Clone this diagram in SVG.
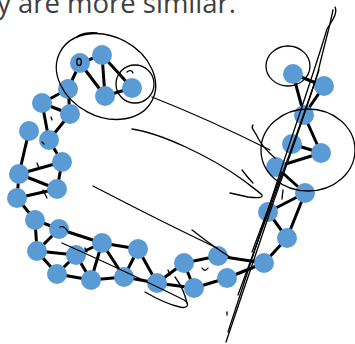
<svg xmlns="http://www.w3.org/2000/svg" width="355" height="344" viewBox="0 0 355 344">
<style>
.e{stroke:#000;stroke-width:3;stroke-linecap:round}
.n{fill:#5b9bd5}
.s{fill:none;stroke:#000;stroke-width:1.3;stroke-linecap:round;stroke-linejoin:round}
.t{font-family:"Open Sans","Noto Sans",sans-serif;font-size:27.5px;fill:#404040}
</style>
<rect width="355" height="344" fill="#fff"/>
<text class="t" x="-3" y="13">y are more similar.</text>
<g id="connectors">
<line class="e" x1="80" y1="63" x2="102" y2="55"/>
<line class="e" x1="80" y1="63" x2="105" y2="96"/>
<line class="e" x1="102" y1="55" x2="105" y2="96"/>
<line class="e" x1="102" y1="55" x2="132" y2="88"/>
<line class="e" x1="105" y1="96" x2="132" y2="88"/>
<line class="e" x1="80" y1="63" x2="68" y2="89"/>
<line class="e" x1="68" y1="89" x2="42" y2="103"/>
<line class="e" x1="68" y1="89" x2="70" y2="114"/>
<line class="e" x1="42" y1="103" x2="70" y2="114"/>
<line class="e" x1="42" y1="103" x2="49" y2="140"/>
<line class="e" x1="70" y1="114" x2="49" y2="140"/>
<line class="e" x1="29" y1="131" x2="19" y2="174"/>
<line class="e" x1="49" y1="140" x2="62" y2="162"/>
<line class="e" x1="62" y1="162" x2="19" y2="174"/>
<line class="e" x1="19" y1="174" x2="57" y2="189"/>
<line class="e" x1="62" y1="162" x2="57" y2="189"/>
<line class="e" x1="57" y1="189" x2="17" y2="198"/>
<line class="e" x1="19" y1="174" x2="17" y2="198"/>
<line class="e" x1="17" y1="198" x2="35" y2="220"/>
<line class="e" x1="35" y1="220" x2="59" y2="229"/>
<line class="e" x1="35" y1="220" x2="37" y2="251"/>
<line class="e" x1="59" y1="229" x2="37" y2="251"/>
<line class="e" x1="37" y1="251" x2="76" y2="255"/>
<line class="e" x1="59" y1="229" x2="102" y2="243"/>
<line class="e" x1="76" y1="255" x2="102" y2="243"/>
<line class="e" x1="37" y1="251" x2="57" y2="274"/>
<line class="e" x1="76" y1="255" x2="57" y2="274"/>
<line class="e" x1="57" y1="274" x2="91" y2="280"/>
<line class="e" x1="102" y1="243" x2="91" y2="280"/>
<line class="e" x1="76" y1="255" x2="91" y2="280"/>
<line class="e" x1="91" y1="280" x2="124" y2="277"/>
<line class="e" x1="102" y1="243" x2="124" y2="277"/>
<line class="e" x1="102" y1="243" x2="138" y2="249"/>
<line class="e" x1="138" y1="249" x2="124" y2="277"/>
<line class="e" x1="138" y1="249" x2="157" y2="283"/>
<line class="e" x1="124" y1="277" x2="157" y2="283"/>
<line class="e" x1="157" y1="283" x2="184" y2="263"/>
<line class="e" x1="157" y1="283" x2="194" y2="288"/>
<line class="e" x1="184" y1="263" x2="194" y2="288"/>
<line class="e" x1="184" y1="263" x2="218" y2="256"/>
<line class="e" x1="194" y1="288" x2="227" y2="278"/>
<line class="e" x1="218" y1="256" x2="264" y2="263"/>
<line class="e" x1="227" y1="278" x2="264" y2="263"/>
<line class="e" x1="264" y1="263" x2="287" y2="238"/>
<line class="e" x1="287" y1="238" x2="305" y2="193"/>
<line class="e" x1="268" y1="212" x2="287" y2="238"/>
<line class="e" x1="268" y1="212" x2="305" y2="193"/>
<line class="e" x1="276" y1="167" x2="305" y2="193"/>
<line class="e" x1="276" y1="167" x2="321" y2="153"/>
<line class="e" x1="292" y1="144" x2="321" y2="153"/>
<line class="e" x1="304" y1="115" x2="321" y2="153"/>
<line class="e" x1="293" y1="74" x2="324" y2="86"/>
<line class="e" x1="293" y1="74" x2="304" y2="115"/>
<line class="e" x1="324" y1="86" x2="304" y2="115"/>
</g>
<g id="nodes">
<circle id="n1" class="n" cx="80" cy="63" r="10"/>
<circle id="n2" class="n" cx="102" cy="55" r="10"/>
<circle id="n3" class="n" cx="105" cy="96" r="10"/>
<circle id="n4" class="n" cx="132" cy="88" r="10"/>
<circle id="n5" class="n" cx="68" cy="89" r="10"/>
<circle id="n6" class="n" cx="42" cy="103" r="10"/>
<circle id="n7" class="n" cx="70" cy="114" r="10"/>
<circle id="n8" class="n" cx="29" cy="131" r="10"/>
<circle id="n9" class="n" cx="49" cy="140" r="10"/>
<circle id="n10" class="n" cx="62" cy="162" r="10"/>
<circle id="n11" class="n" cx="19" cy="174" r="10"/>
<circle id="n12" class="n" cx="57" cy="189" r="10"/>
<circle id="n13" class="n" cx="17" cy="198" r="10"/>
<circle id="n14" class="n" cx="35" cy="220" r="10"/>
<circle id="n15" class="n" cx="59" cy="229" r="10"/>
<circle id="n16" class="n" cx="37" cy="251" r="10"/>
<circle id="n17" class="n" cx="76" cy="255" r="10"/>
<circle id="n18" class="n" cx="102" cy="243" r="10"/>
<circle id="n19" class="n" cx="138" cy="249" r="10"/>
<circle id="n20" class="n" cx="57" cy="274" r="10"/>
<circle id="n21" class="n" cx="91" cy="280" r="10"/>
<circle id="n22" class="n" cx="124" cy="277" r="10"/>
<circle id="n23" class="n" cx="157" cy="283" r="10"/>
<circle id="n24" class="n" cx="184" cy="263" r="10"/>
<circle id="n25" class="n" cx="218" cy="256" r="10"/>
<circle id="n26" class="n" cx="194" cy="288" r="10"/>
<circle id="n27" class="n" cx="227" cy="278" r="10"/>
<circle id="n28" class="n" cx="264" cy="263" r="10"/>
<circle id="n29" class="n" cx="287" cy="238" r="10"/>
<circle id="n30" class="n" cx="268" cy="212" r="10"/>
<circle id="n31" class="n" cx="305" cy="193" r="10"/>
<circle id="n32" class="n" cx="276" cy="167" r="10"/>
<circle id="n33" class="n" cx="292" cy="144" r="10"/>
<circle id="n34" class="n" cx="321" cy="153" r="10"/>
<circle id="n35" class="n" cx="304" cy="115" r="10"/>
<circle id="n36" class="n" cx="293" cy="74" r="10"/>
<circle id="n37" class="n" cx="324" cy="86" r="10"/>
</g>
<g id="sketch">
<ellipse class="s" cx="106" cy="76.5" rx="52" ry="40" transform="rotate(28 106 76.5)"/>
<path class="s" d="M77,37 C80,34 88,32 97,33"/>
<circle class="s" cx="135" cy="84" r="19"/>
<path class="s" d="M127,72 C129,70 132,70 133,73"/>
<path class="s" d="M152,97 C190,112 230,130 270,150"/>
<path class="s" d="M253,125 C250,128 255,131 258,138 C262,146 268,152 275,158"/>
<path class="s" d="M132,129 C160,133 210,156 243,180 C252,187 258,191 262,195 C263,198 258,198 248,197 L230,193"/>
<path class="s" d="M242,170 C245,174 249,179 253,183"/>
<path class="s" d="M93,186 C120,200 160,221 217,248"/>
<path class="s" d="M192,230 C200,236 212,246 230,257"/>
<path class="s" d="M62,243 C100,260 150,283 184,300 C190,304 188,309 180,307 C170,305 157,299 145,292"/>
<path class="s" d="M175,277 C181,285 185,294 187,303"/>
<path class="s" d="M335,7 C338,13 332,21 327,29 C318,60 300,112 281,170 L228,332"/>
<path class="s" d="M333,10 C329,30 323,50 318,72 C306,112 290,155 270,212 L226,342"/>
<path class="s" d="M319,70 C302,120 275,195 238,295"/>
<path class="s" d="M282,172 L252,252"/>
<ellipse class="s" cx="288" cy="66" rx="22" ry="20"/>
<ellipse class="s" cx="308" cy="150" rx="47" ry="41"/>
<ellipse class="s" cx="79" cy="62" rx="2.3" ry="3.5" stroke-width="1.6"/>
<path class="s" d="M51,117 l1,3" stroke-width="2"/>
<path class="s" d="M42,142 l2,2" stroke-width="2"/>
<path class="s" d="M37,163 l2,5"/>
<path class="s" d="M43,190 l4,8"/>
<path class="s" d="M60,227 C63,226 66,228 68,232" stroke-width="2"/>
<path class="s" d="M85,248 l2,4"/>
<path class="s" d="M168,270 l2,5"/>
<path class="s" d="M202,268 C204,271 206,271 208,268"/>
<path class="s" d="M283,190 l-1,9"/>
<path class="s" d="M227,312 l0,3" stroke-width="1.8"/>
</g>
</svg>
